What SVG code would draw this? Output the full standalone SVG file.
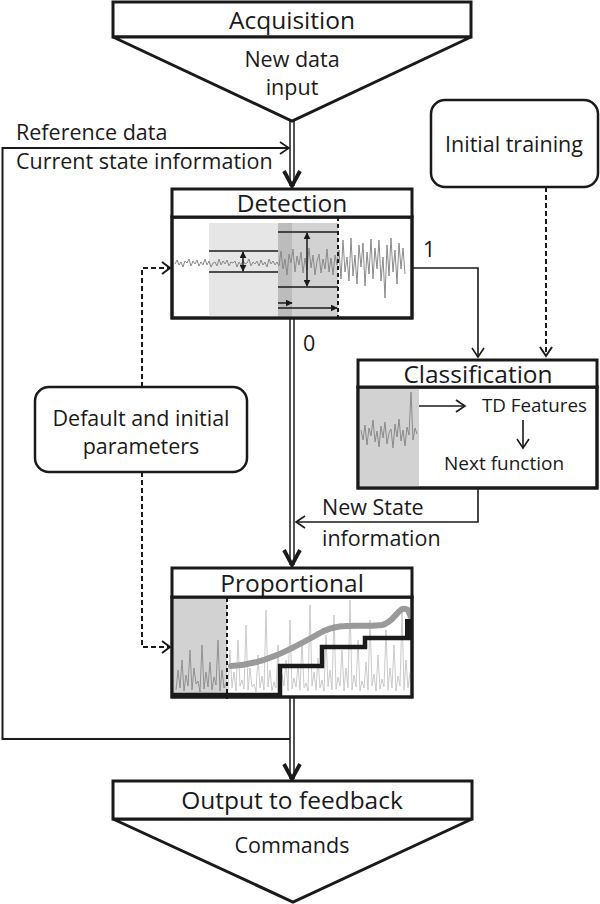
<svg xmlns="http://www.w3.org/2000/svg" width="600" height="904" viewBox="0 0 600 904">
<defs>
<style>
.box{fill:#fff;stroke:#1a1a1a;stroke-width:3}
.rbox{fill:#fff;stroke:#1a1a1a;stroke-width:2.5}
.t{font-family:"Open Sans","Noto Sans",sans-serif;fill:#1a1a1a}
.title{font-size:24.5px;text-anchor:middle}
.lab{font-size:21.5px}
.mid{text-anchor:middle}
.thin{fill:none;stroke:#1a1a1a;stroke-width:1.6}
.dash{fill:none;stroke:#1a1a1a;stroke-width:2;stroke-dasharray:5,3}
.head{fill:none;stroke:#1a1a1a;stroke-width:1.6;stroke-linejoin:miter}
.bighead{fill:none;stroke:#1a1a1a;stroke-width:3.8;stroke-linejoin:miter}
.dbl{fill:none;stroke:#1a1a1a;stroke-width:1.5}
.sig{fill:none;stroke:#8a8a8a;stroke-width:1}
.inl{fill:none;stroke:#1a1a1a;stroke-width:1.5}
</style>
<marker id="tri" viewBox="0 0 10 10" refX="9" refY="5" markerWidth="7" markerHeight="7" orient="auto-start-reverse" markerUnits="userSpaceOnUse"><path d="M0,0 L10,5 L0,10 z" fill="#1a1a1a"/></marker>
</defs>
<rect width="600" height="904" fill="#fff"/>

<g id="connectors">
<line class="dbl" x1="290" y1="121" x2="290" y2="186"/>
<line class="dbl" x1="294" y1="121" x2="294" y2="186"/>
<polyline class="bighead" points="284,171 292,186 300,171"/>
<polyline class="thin" points="290,739 2.5,739 2.5,148 289,148" style="stroke-width:2"/>
<polyline class="head" points="280,142 289,148 280,154"/>
<line class="dbl" x1="290" y1="318" x2="290" y2="565"/>
<line class="dbl" x1="294" y1="318" x2="294" y2="565"/>
<polyline class="bighead" points="284,550 292,565 300,550"/>
<line class="dbl" x1="290" y1="697" x2="290" y2="779"/>
<line class="dbl" x1="294" y1="697" x2="294" y2="779"/>
<polyline class="bighead" points="284,764 292,779 300,764"/>
<polyline class="thin" points="412,268 478,268 478,357"/>
<polyline class="head" points="472,348 478,357 484,348"/>
<line class="dash" x1="546" y1="187" x2="546" y2="356"/>
<polyline class="head" points="540,347 546,356 552,347" style="stroke-width:2"/>
<polyline class="thin" points="478,488 478,522 296,522"/>
<polyline class="head" points="305,516 296,522 305,528"/>
<polyline class="dash" points="142,387 142,268 169,268"/>
<polyline class="head" points="162,262 170,268 162,274" style="stroke-width:2"/>
<polyline class="dash" points="142,472 142,647 169,647"/>
<polyline class="head" points="162,641 170,647 162,653" style="stroke-width:2"/>
</g>

<g id="labels">
<text class="t lab" x="16" y="140">Reference data</text>
<text class="t lab" x="16" y="169">Current state information</text>
<text class="t lab" x="423" y="257">1</text>
<text class="t lab" x="303" y="351">0</text>
<text class="t lab" x="322" y="515">New State</text>
<text class="t lab" x="322" y="546">information</text>
</g>

<g id="acquisition">
<rect class="box" x="113" y="2" width="358" height="35"/>
<polygon class="box" points="113,37 292,121 471,37"/>
<text class="t title" x="292" y="29">Acquisition</text>
<text class="t lab mid" x="292" y="67">New data</text>
<text class="t lab mid" x="292" y="95">input</text>
</g>

<g id="initial-training">
<rect class="rbox" x="431" y="100" width="167" height="87" rx="14"/>
<text class="t lab mid" x="514" y="152">Initial training</text>
</g>

<g id="detection">
<rect class="box" x="172" y="217" width="240" height="101"/>
<rect x="209" y="223" width="69" height="93.5" fill="#e6e6e6"/>
<rect x="278" y="223" width="14" height="93.5" fill="#bcbcbc"/>
<rect x="292" y="223" width="46" height="93.5" fill="#d2d2d2"/>
<polyline class="sig" points="175,264 177,260 179,265 181,262 183,267 185,261 187,263 189,259 191,266 193,261 195,264 197,260 199,266 201,262 203,265 205,259 207,265 209,261 211,267 213,263 215,262 217,266 219,259 221,265 223,261 225,264 227,260 229,266 231,262 233,263 235,261 237,267 239,262 241,265 243,260 245,264 247,263 249,259 251,266 253,262 255,264 257,261 259,266 261,260 263,265 265,262 267,267 269,259 271,264 273,261 275,265 277,262 279,266 281,251 283,269 285,259 287,275 289,254 291,263 293,249 295,272 297,256 299,265 301,252 303,273 305,258 307,270 309,248 311,268 313,255 315,275 317,261 319,254 321,273 323,259 325,269 327,249 329,272 331,258 333,275 335,255 337,265 339,250 341,279 343,240 345,272 347,257 349,281 351,238 353,276 355,255 357,284 359,245 361,267 363,243 365,286 367,252 369,274 371,239 373,279 375,248 377,269 379,240 381,281 383,257 385,298 387,245 389,276 391,238 393,272 395,250 397,284 399,243 401,269 403,248 405,274"/>
<line class="inl" x1="209" y1="251" x2="278" y2="251"/>
<line class="inl" x1="209" y1="272" x2="278" y2="272"/>
<line class="inl" x1="278" y1="232" x2="338" y2="232"/>
<line class="inl" x1="278" y1="287" x2="338" y2="287"/>
<line class="inl" x1="243" y1="252" x2="243" y2="271" marker-start="url(#tri)" marker-end="url(#tri)"/>
<line class="inl" x1="307" y1="233" x2="307" y2="286" marker-start="url(#tri)" marker-end="url(#tri)"/>
<line class="inl" x1="278" y1="303" x2="292" y2="303" marker-end="url(#tri)"/>
<line class="inl" x1="278" y1="308" x2="337" y2="308" marker-end="url(#tri)"/>
<line x1="338" y1="217" x2="338" y2="318" stroke="#1a1a1a" stroke-width="2" stroke-dasharray="4,3"/>
<rect class="box" x="172" y="217" width="240" height="101" style="fill:none"/>
<rect class="box" x="172" y="189" width="240" height="28"/>
<text class="t title" x="292" y="212">Detection</text>
</g>

<g id="default-parameters">
<rect class="rbox" x="35" y="387" width="212" height="85" rx="14"/>
<text class="t lab mid" x="141" y="426">Default and initial</text>
<text class="t lab mid" x="141" y="454">parameters</text>
</g>

<g id="classification">
<rect class="box" x="358" y="387" width="239" height="101"/>
<rect x="359.5" y="388.5" width="59.5" height="98" fill="#d2d2d2"/>
<polyline class="sig" points="361,430 363,440 365,425 367,445 369,428 371,436 373,420 375,442 377,431 379,447 381,426 383,438 385,422 387,444 389,433 391,429 393,448 395,424 397,437 399,419 401,441 403,430 405,446 407,427 409,435 411,392 413,440 415,428 417,434"/>
<rect class="box" x="358" y="387" width="239" height="101" style="fill:none"/>
<rect class="box" x="358" y="360" width="239" height="27"/>
<text class="t title" x="478" y="383">Classification</text>
<line class="thin" x1="419" y1="406" x2="464" y2="406"/>
<polyline class="head" points="456,400 465,406 456,412"/>
<text class="t" x="482" y="412" font-size="18.8">TD Features</text>
<line class="thin" x1="523" y1="420" x2="523" y2="447"/>
<polyline class="head" points="517,439 523,448 529,439"/>
<text class="t" x="444" y="470" font-size="19">Next function</text>
</g>

<g id="proportional">
<rect class="box" x="172" y="597" width="240" height="100"/>
<rect x="173.5" y="598.5" width="53.5" height="97" fill="#d2d2d2"/>
<polyline fill="none" stroke="#c4c4c4" stroke-width="0.9" points="228,690 230,650 232,688 234,672 236,691 238,640 240,686 242,680 244,689 246,625 248,690 250,668 252,687 254,684 256,692 258,655 260,688 262,676 264,690 266,610 268,687 270,670 272,691 274,682 276,688 278,645 280,690 282,675 284,686 286,660 288,691 290,620 292,689 294,678 296,687 298,665 300,690 302,640 304,688 306,683 308,691 310,605 312,686 314,672 316,690 318,658 320,688 322,680 324,691 326,635 328,687 330,670 332,690 334,615 336,689 338,677 340,686 342,650 344,691 346,668 348,688 350,600 352,690 354,675 356,687 358,640 360,691 362,681 364,688 366,662 368,690 370,620 372,686 374,674 376,691 378,655 380,689 382,679 384,687 386,630 388,690 390,668 392,688 394,645 396,691 398,676 400,686 402,612 404,690 406,660 408,688 410,672"/>
<polyline fill="none" stroke="#8a8a8a" stroke-width="0.9" points="176,690 178,670 180,688 182,660 184,691 186,675 188,686 190,650 192,690 194,668 196,684 198,681 200,692 202,645 204,689 206,672 208,687 210,662 212,690 214,677 216,685 218,640 220,691 222,670 224,688 226,683"/>
<line x1="227" y1="598" x2="227" y2="699" stroke="#1a1a1a" stroke-width="2" stroke-dasharray="4,3"/>
<path d="M231,666 C262,665 290,650 320,633 C342,621 362,628 382,625 C396,622 398,604 408,610 L411,617" fill="none" stroke="#9a9a9a" stroke-width="6" stroke-linecap="round"/>
<rect class="box" x="172" y="597" width="240" height="100" style="fill:none"/>
<polyline fill="none" stroke="#1a1a1a" stroke-width="4.5" points="172,695 280,695 280,666 322,666 322,647 365,647 365,638 410,638 410,620"/>
<rect x="405" y="619" width="7" height="20" fill="#1a1a1a"/>
<rect class="box" x="172" y="568" width="240" height="29"/>
<text class="t title" x="292" y="592">Proportional</text>
</g>

<g id="output">
<polygon class="box" points="113,819 293,902 472,819"/>
<rect class="box" x="113" y="781" width="359" height="38"/>
<text class="t title" x="292" y="809">Output to feedback</text>
<text class="t lab mid" x="292" y="853">Commands</text>
</g>
</svg>
